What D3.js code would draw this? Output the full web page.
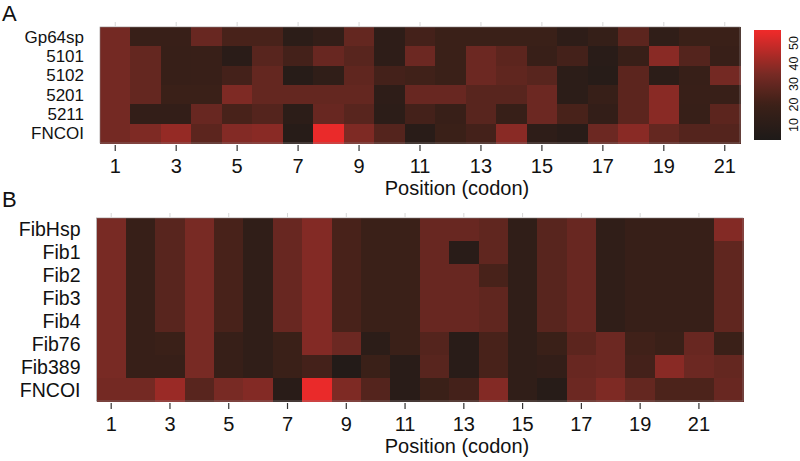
<!DOCTYPE html>
<html><head><meta charset="utf-8">
<script src="https://cdn.jsdelivr.net/npm/d3@7"></script>
<style>
html,body{margin:0;padding:0;background:#fff;}
svg{display:block;font-family:"Liberation Sans",Arial,Helvetica,sans-serif;}
</style></head>
<body>
<svg id="chart" width="800" height="461"></svg>
<script>
// ---------- data ----------
const positionsA = [1,2,3,4,5,6,7,8,9,10,11,12,13,14,15,16,17,18,19,20,21];
const positionsB = [1,2,3,4,5,6,7,8,9,10,11,12,13,14,15,16,17,18,19,20,21,22];
const tickLabelsA = [1,3,5,7,9,11,13,15,17,19,21];
const tickLabelsB = [1,3,5,7,9,11,13,15,17,19,21];
const rowsA = ["Gp64sp","5101","5102","5201","5211","FNCOI"];
const rowsB = ["FibHsp","Fib1","Fib2","Fib3","Fib4","Fib76","Fib389","FNCOI"];
const legendTicks = [10,20,30,40,50];

const valGp64sp = [34,18,18,31,23,23,11,15,30,12,22,19,19,19,19,12,16,28,13,19,19];
const val5101   = [34,30,17,18,10,27,22,31,27,12,32,19,32,28,18,22,9,18,38,26,18];
const val5102   = [34,30,17,18,22,30,8,13,29,22,21,19,32,29,27,11,8,28,11,17,34];
const val5201   = [34,30,19,19,36,30,30,30,30,12,31,31,27,27,32,11,17,28,38,18,18];
const val5211   = [34,15,15,31,23,26,11,31,27,11,22,18,27,17,32,23,15,28,38,17,28];
const valFNCOIa = [34,36,40,28,37,38,8,55,36,26,9,19,22,38,12,9,32,38,30,26,26];

const valFibHsp = [35,17,27,35,23,13,31,37,23,19,19,31,31,29,13,27,31,13,17,17,17,37];
const valFib1   = [35,17,27,35,23,13,31,37,23,19,19,31,9,29,13,27,31,13,17,17,17,29];
const valFib2   = [35,17,27,35,23,13,31,37,23,19,19,31,31,23,13,27,31,13,17,17,17,29];
const valFib3   = [35,17,27,35,23,13,31,37,23,19,19,31,31,29,13,27,31,13,17,17,17,29];
const valFib4   = [35,17,27,35,23,13,31,37,23,19,19,31,31,29,13,27,31,13,17,17,17,29];
const valFib76  = [35,17,19,35,17,13,19,37,32,11,19,26,9,23,13,19,28,32,21,19,31,19];
const valFib389 = [35,17,17,35,17,13,19,22,6,19,9,27,9,23,13,15,31,32,22,38,32,30];
const valFNCOIb = [34,34,41,27,35,37,9,55,36,26,9,19,22,37,13,8,32,36,30,24,24,31];

const matA = [valGp64sp,val5101,val5102,val5201,val5211,valFNCOIa];
const matB = [valFibHsp,valFib1,valFib2,valFib3,valFib4,valFib76,valFib389,valFNCOIb];

// ---------- drawing ----------
const svg = d3.select("#chart");
const color = d3.scaleLinear()
  .domain([3,20,35,56])
  .range(["#1e1a18","#3c2018","#782a24","#f02a2a"])
  .clamp(true);

function panel(opts){
  const {rows, cols, mat, ticks, x0, x1, y0, y1, letter, letterY, rowFont} = opts;
  const x = d3.scaleBand().domain(cols).range([x0,x1]);
  const y = d3.scaleBand().domain(rows).range([y0,y1]);
  const g = svg.append("g");
  const cells = [];
  mat.forEach((r,i)=>r.forEach((v,j)=>cells.push({row:rows[i],col:cols[j],v})));
  g.selectAll("rect.cell").data(cells).join("rect")
    .attr("class","cell")
    .attr("x",d=>x(d.col)).attr("y",d=>y(d.row))
    .attr("width",x.bandwidth()+0.5).attr("height",y.bandwidth()+0.5)
    .attr("fill",d=>color(d.v)).attr("shape-rendering","crispEdges");
  g.append("rect").attr("x",x0).attr("y",y0).attr("width",x1-x0).attr("height",y1-y0)
    .attr("fill","none").attr("stroke","#8a8080").attr("stroke-width",0.6);
  // faint top ticks
  g.selectAll("line.top").data(ticks).join("line").attr("class","top")
    .attr("x1",d=>x(d)+x.bandwidth()/2).attr("x2",d=>x(d)+x.bandwidth()/2)
    .attr("y1",y0-5).attr("y2",y0).attr("stroke","#d8d8d8").attr("stroke-width",1);
  // bottom axis
  const ax = g.append("g").attr("transform",`translate(0,${y1+2})`)
    .call(d3.axisBottom(x).tickValues(ticks).tickSize(6).tickPadding(8));
  ax.select(".domain").remove();
  ax.attr("font-family",null).attr("font-size",null);
  ax.selectAll(".tick line").attr("stroke","#333").attr("stroke-width",1.2);
  ax.selectAll(".tick text").attr("fill","#111").style("font-size","20px");
  g.append("text").attr("x",457).attr("y",y1+52).attr("text-anchor","middle")
    .attr("fill","#111").style("font-size","20px").text("Position (codon)");
  // row labels
  g.selectAll("text.row").data(rows).join("text").attr("class","row")
    .attr("x",x0-16).attr("y",d=>y(d)+y.bandwidth()/2).attr("dy","0.36em")
    .attr("text-anchor","end").attr("fill","#111").style("font-size",rowFont).text(d=>d);
  svg.append("text").attr("x",2).attr("y",letterY).attr("fill","#111")
    .style("font-size","22px").text(letter);
}

panel({rows:rowsA, cols:positionsA, mat:matA, ticks:tickLabelsA,
  x0:100, x1:740, y0:27, y1:143, letter:"A", letterY:21, rowFont:"17px"});
panel({rows:rowsB, cols:positionsB, mat:matB, ticks:tickLabelsB,
  x0:96.5, x1:743, y0:218, y1:401, letter:"B", letterY:207, rowFont:"19.5px"});

// legend
const ly = d3.scaleLinear().domain([10,50]).range([125,43]);
const vTop = ly.invert(30), vBot = ly.invert(140);
const defs = svg.append("defs");
const grad = defs.append("linearGradient").attr("id","lg")
  .attr("x1",0).attr("y1",1).attr("x2",0).attr("y2",0);
d3.range(0,1.0001,0.05).forEach(t=>{
  grad.append("stop").attr("offset",t).attr("stop-color",color(vBot+(vTop-vBot)*t));
});
svg.append("rect").attr("x",754).attr("y",30).attr("width",27).attr("height",110)
  .attr("fill","url(#lg)");
svg.selectAll("text.leg").data(legendTicks).join("text").attr("class","leg")
  .attr("transform",d=>`translate(793,${ly(d)}) rotate(-90)`)
  .attr("text-anchor","middle").attr("dy","0.36em").attr("fill","#111")
  .style("font-size","12.5px").text(d=>d);
</script>
</body></html>
